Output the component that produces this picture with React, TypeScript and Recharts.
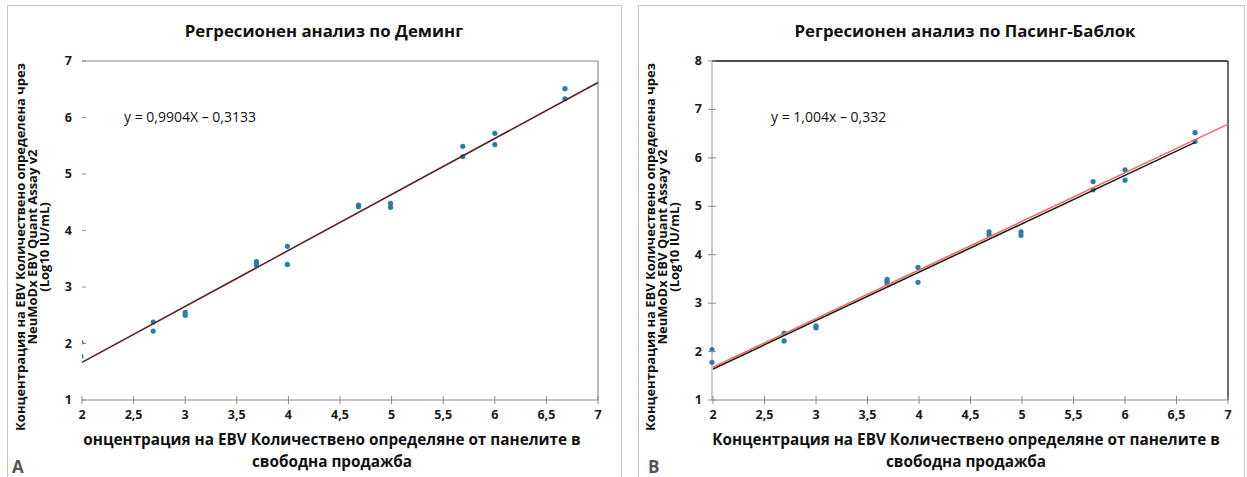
import React from "react";
import {
  ScatterChart,
  Scatter,
  XAxis,
  YAxis,
  ReferenceLine,
} from "recharts";

// panel x values (log10 IU/mL from the commercial panels)
const panelX = [
  1.99, 1.99, 2.69, 2.69, 3.0, 3.0, 3.69, 3.69, 3.69, 3.99, 3.99, 4.68, 4.68,
  4.99, 4.99, 5.69, 5.69, 6.0, 6.0, 6.68, 6.68,
];
// NeuMoDx values (Deming)
const demingY = [
  2.02, 1.77, 2.38, 2.22, 2.55, 2.5, 3.45, 3.42, 3.38, 3.72, 3.4, 4.45, 4.42,
  4.48, 4.41, 5.49, 5.31, 5.72, 5.52, 6.51, 6.33,
];
// NeuMoDx values (Passing-Bablok)
const passingY = [
  2.04, 1.78, 2.38, 2.22, 2.53, 2.49, 3.49, 3.45, 3.41, 3.74, 3.43, 4.47, 4.41,
  4.47, 4.4, 5.51, 5.34, 5.75, 5.54, 6.52, 6.34,
];

const xTicks = [2, 2.5, 3, 3.5, 4, 4.5, 5, 5.5, 6, 6.5, 7];
const yTicksA = [1, 2, 3, 4, 5, 6, 7];
const yTicksB = [1, 2, 3, 4, 5, 6, 7, 8];

// regression line end points
const demingLine = [
  { x: 2, y: 1.667 },
  { x: 7, y: 6.619 },
];
const passingLine = [
  { x: 2, y: 1.676 },
  { x: 7, y: 6.696 },
];
const identityLine = [
  { x: 2, y: 1.64 },
  { x: 6.68, y: 6.32 },
];

const pointsA = panelX.map((x, i) => ({ x, y: demingY[i] }));
const pointsB = panelX.map((x, i) => ({ x, y: passingY[i] }));

const FONT = "'Open Sans', 'Noto Sans', sans-serif";
const fmt = (v: number) => String(v).replace(".", ",");

const XTick = (props: any) => {
  const { x, y, payload } = props;
  return (
    <g>
      <line x1={x} x2={x} y1={y - 4} y2={y + 4} stroke="#8c8c8c" />
      <text
        x={x}
        y={y + 19}
        textAnchor="middle"
        fontSize={12.5}
        fontWeight="bold"
        fill="#1a1a1a"
        fontFamily={FONT}
      >
        {fmt(payload.value)}
      </text>
    </g>
  );
};

const makeYTick = (inside: boolean) => (props: any) => {
  const { x, y, payload } = props;
  return (
    <g>
      <line
        x1={inside ? x : x - 4}
        x2={x + 4}
        y1={y}
        y2={y}
        stroke="#8c8c8c"
      />
      <text
        x={x - 10}
        y={y + 4}
        textAnchor="end"
        fontSize={12.5}
        fontWeight="bold"
        fill="#1a1a1a"
        fontFamily={FONT}
      >
        {payload.value}
      </text>
    </g>
  );
};

const Dot = (props: any) => (
  <circle cx={props.cx} cy={props.cy} r={2.6} fill="#2f7ca3" />
);
const NoDot = () => <g />;

const titleStyle: React.CSSProperties = {
  position: "absolute",
  top: 19,
  width: 620,
  textAlign: "center",
  fontSize: 16.8,
  fontWeight: "bold",
  color: "#111",
  fontFamily: FONT,
};

const xLabelStyle: React.CSSProperties = {
  position: "absolute",
  top: 428,
  width: 620,
  textAlign: "center",
  fontSize: 15.3,
  lineHeight: "22px",
  fontWeight: "bold",
  color: "#111",
  fontFamily: FONT,
};

const yLabelStyle: React.CSSProperties = {
  position: "absolute",
  top: 247,
  width: 440,
  textAlign: "center",
  fontSize: 13,
  lineHeight: "12px",
  fontWeight: "bold",
  color: "#111",
  fontFamily: FONT,
  transform: "translate(-50%, -50%) rotate(-90deg)",
};

const eqStyle: React.CSSProperties = {
  position: "absolute",
  top: 107,
  fontSize: 14,
  color: "#111",
  fontFamily: FONT,
  whiteSpace: "nowrap",
};

const panelLetter: React.CSSProperties = {
  position: "absolute",
  top: 455,
  fontSize: 17,
  fontWeight: "bold",
  color: "#555",
  fontFamily: FONT,
};

const margin = { top: 61, right: 22, bottom: 47, left: 52 };

export default function App() {
  return (
    <div
      style={{
        position: "absolute",
        left: 0,
        top: 0,
        width: 1247,
        height: 477,
        overflow: "hidden",
        background: "#fff",
      }}
    >
      {/* panel frames */}
      <div
        style={{
          position: "absolute",
          left: 7,
          top: 5,
          width: 613,
          height: 490,
          border: "1.5px solid #c8c8c8",
        }}
      />
      <div
        style={{
          position: "absolute",
          left: 638,
          top: 5,
          width: 605,
          height: 490,
          border: "1.5px solid #c8c8c8",
        }}
      />

      {/* Panel A */}
      <div style={{ position: "absolute", left: 0, top: 0 }}>
        <ScatterChart width={620} height={477} margin={margin}>
          <XAxis
            type="number"
            dataKey="x"
            domain={[2, 7]}
            ticks={xTicks}
            allowDataOverflow
            height={30}
            tickSize={0}
            tickMargin={0}
            tickLine={false}
            stroke="#8c8c8c"
            tick={<XTick />}
          />
          <YAxis
            type="number"
            dataKey="y"
            domain={[1, 7]}
            ticks={yTicksA}
            allowDataOverflow
            width={30}
            tickSize={0}
            tickMargin={0}
            tickLine={false}
            axisLine={false}
            tick={makeYTick(true)}
          />
          <ReferenceLine y={7} stroke="#8c8c8c" strokeWidth={1.2} />
          <ReferenceLine x={7} stroke="#8c8c8c" strokeWidth={1.2} />
          <Scatter
            data={pointsA}
            shape={<Dot />}
            isAnimationActive={false}
          />
          <Scatter
            data={demingLine}
            line={{ stroke: "#5a2626", strokeWidth: 1.6 }}
            shape={NoDot}
            isAnimationActive={false}
          />
        </ScatterChart>
      </div>
      <div style={{ ...titleStyle, left: 14 }}>Регресионен анализ по Деминг</div>
      <div style={{ ...eqStyle, left: 124 }}>y = 0,9904X – 0,3133</div>
      <div style={{ ...xLabelStyle, left: 22 }}>
        онцентрация на EBV Количествено определяне от панелите в
        <br />
        свободна продажба
      </div>
      <div style={{ ...yLabelStyle, left: 32 }}>
        Концентрация на EBV Количествено определена чрез
        <br />
        NeuMoDx EBV Quant Assay v2
        <br />
        (Log10 IU/mL)
      </div>
      <div style={{ ...panelLetter, left: 12 }}>A</div>

      {/* Panel B */}
      <div style={{ position: "absolute", left: 630, top: 0 }}>
        <ScatterChart width={620} height={477} margin={margin}>
          <XAxis
            type="number"
            dataKey="x"
            domain={[2, 7]}
            ticks={xTicks}
            height={30}
            tickSize={0}
            tickMargin={0}
            tickLine={false}
            stroke="#8c8c8c"
            tick={<XTick />}
          />
          <YAxis
            type="number"
            dataKey="y"
            domain={[1, 8]}
            ticks={yTicksB}
            allowDataOverflow
            width={30}
            tickSize={0}
            tickMargin={0}
            tickLine={false}
            stroke="#9a9a9a"
            tick={makeYTick(false)}
          />
          <ReferenceLine y={8} stroke="#111" strokeWidth={1.6} />
          <ReferenceLine x={7} stroke="#444" strokeWidth={1.6} />
          <Scatter
            data={pointsB}
            shape={<Dot />}
            isAnimationActive={false}
          />
          <Scatter
            data={identityLine}
            line={{ stroke: "#1e1e1e", strokeWidth: 1.6 }}
            shape={NoDot}
            isAnimationActive={false}
          />
          <Scatter
            data={passingLine}
            line={{ stroke: "#f06a6a", strokeWidth: 1.6 }}
            shape={NoDot}
            isAnimationActive={false}
          />
        </ScatterChart>
      </div>
      <div style={{ ...titleStyle, left: 655 }}>
        Регресионен анализ по Пасинг-Баблок
      </div>
      <div style={{ ...eqStyle, left: 771 }}>y = 1,004x – 0,332</div>
      <div style={{ ...xLabelStyle, left: 656 }}>
        Концентрация на EBV Количествено определяне от панелите в
        <br />
        свободна продажба
      </div>
      <div style={{ ...yLabelStyle, left: 662 }}>
        Концентрация на EBV Количествено определена чрез
        <br />
        NeuMoDx EBV Quant Assay v2
        <br />
        (Log10 IU/mL)
      </div>
      <div style={{ ...panelLetter, left: 648 }}>B</div>
    </div>
  );
}
